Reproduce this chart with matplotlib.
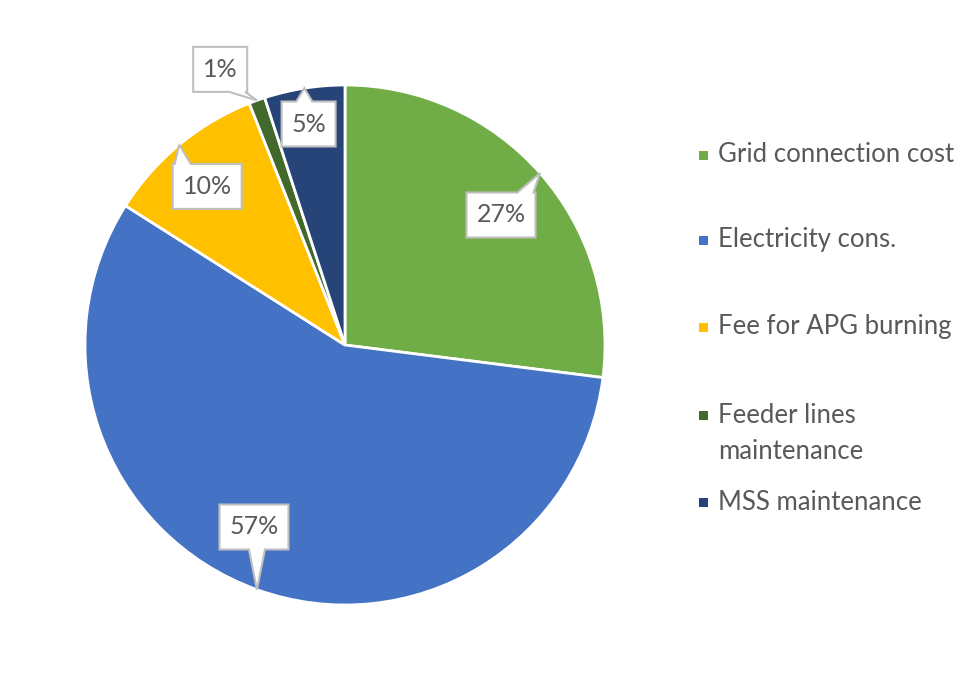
import matplotlib.pyplot as plt
import numpy as np
from matplotlib.patches import Polygon, Rectangle

# --- DATA ---
categories = ['Grid connection cost', 'Electricity cons.', 'Fee for APG burning',
              'Feeder lines\nmaintenance', 'MSS maintenance']
shares = [27, 57, 10, 1, 5]
pct_labels = ['27%', '57%', '10%', '1%', '5%']
colors = ['#70AD47', '#4472C4', '#FFC000', '#43682B', '#264478']

# label box centres (in pie radius units)
label_pos = [(0.60, 0.50), (-0.35, -0.70), (-0.53, 0.61), (-0.48, 1.06), (-0.14, 0.85)]
# legend entry rows (pixels from top)
legend_rows = [155, 240, 327, 415, 502]

W, H = 974, 679
FONT = 'Lato'


def main():
    fig = plt.figure(figsize=(W / 100, H / 100), dpi=100)
    cx, cy, r = 345, 345, 260
    ax = fig.add_axes([(cx - r) / W, (H - cy - r) / H, 2 * r / W, 2 * r / H])

    wedges, _ = ax.pie(shares, colors=colors, startangle=90, counterclock=False,
                       wedgeprops=dict(edgecolor='white', linewidth=2))
    ax.set_xlim(-1, 1)
    ax.set_ylim(-1, 1)
    ax.set_aspect('equal')
    ax.axis('off')

    px = 1.0 / r  # one pixel in data units
    for w, lab, (bx, by) in zip(wedges, pct_labels, label_pos):
        mid = np.deg2rad((w.theta1 + w.theta2) / 2)
        tx, ty = np.cos(mid), np.sin(mid)
        bw = (24 + 15 * len(lab)) * px
        bh = 45 * px
        x0, x1 = bx - bw / 2, bx + bw / 2
        y0, y1 = by - bh / 2, by + bh / 2
        bc = min(max(tx, x0 + 10 * px), x1 - 10 * px)
        b0, b1 = bc - 8 * px, bc + 8 * px
        if ty > by:
            pts = [(x0, y0), (x1, y0), (x1, y1), (b1, y1), (tx, ty), (b0, y1), (x0, y1)]
        else:
            pts = [(x0, y0), (b0, y0), (tx, ty), (b1, y0), (x1, y0), (x1, y1), (x0, y1)]
        ax.add_patch(Polygon(pts, closed=True, facecolor='white', edgecolor='#BFBFBF',
                             linewidth=1.5, zorder=5, clip_on=False))
        ax.text(bx, by, lab, ha='center', va='center', fontsize=18, color='#595959',
                family=FONT, zorder=6)

    # legend
    for cat, col, row in zip(categories, colors, legend_rows):
        fig.patches.append(Rectangle((699 / W, (H - row - 4.5) / H), 9 / W, 9 / H,
                                     transform=fig.transFigure, facecolor=col,
                                     edgecolor='none'))
        if '\n' in cat:
            fig.text(718 / W, (H - row + 12) / H, cat, ha='left', va='top',
                     fontsize=18.5, color='#595959', family=FONT, linespacing=1.55)
        else:
            fig.text(718 / W, (H - row) / H, cat, ha='left', va='center',
                     fontsize=18.5, color='#595959', family=FONT)

    fig.savefig('out.png', dpi=100)


if __name__ == "__main__":
    main()
